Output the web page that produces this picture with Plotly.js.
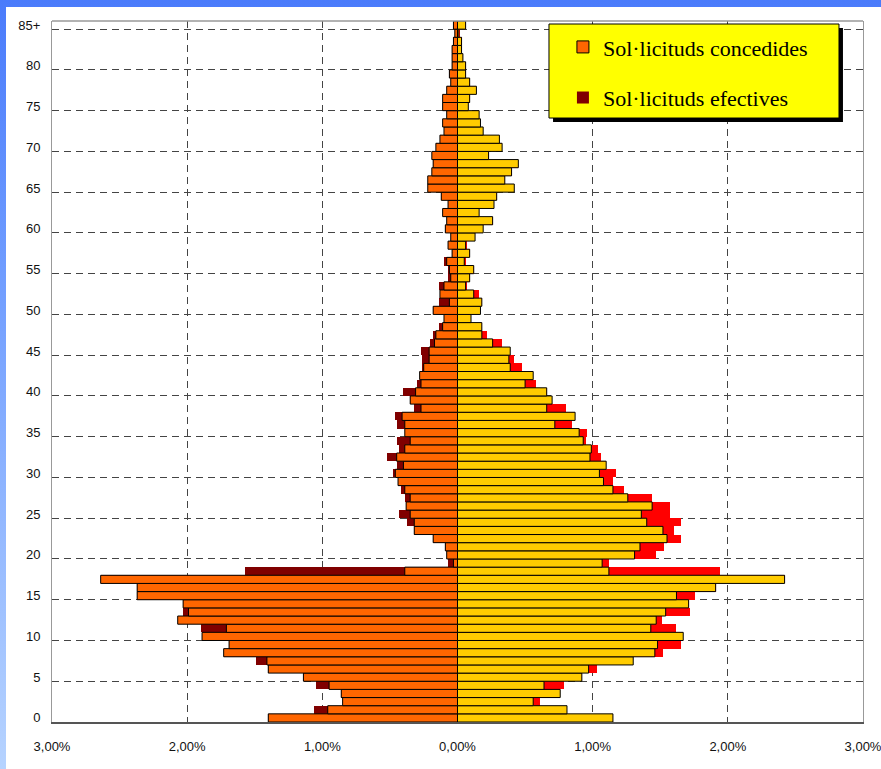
<!DOCTYPE html>
<html>
<head>
<meta charset="utf-8">
<script src="https://cdn.plot.ly/plotly-3.0.1.min.js"></script>
<style>
  html, body { margin: 0; padding: 0; width: 881px; height: 769px; overflow: hidden; }
  body { background: linear-gradient(180deg, #4a7bfb 0%, #6f9cff 35%, #b6d3ff 100%); position: relative; }
  #chart { position: absolute; left: 6px; top: 7px; width: 875px; height: 762px; background: #ffffff; }
</style>
</head>
<body>
<div id="chart"></div>
<script>
// Ages 0 .. 85 (85 = "85+")
const ages = [0,1,2,3,4,5,6,7,8,9,10,11,12,13,14,15,16,17,18,19,20,21,22,23,24,25,26,27,28,29,
  30,31,32,33,34,35,36,37,38,39,40,41,42,43,44,45,46,47,48,49,50,51,52,53,54,55,56,57,58,59,
  60,61,62,63,64,65,66,67,68,69,70,71,72,73,74,75,76,77,78,79,80,81,82,83,84,85];

const ageTickVals = [0,5,10,15,20,25,30,35,40,45,50,55,60,65,70,75,80,85];
const ageTickText = ['0','5','10','15','20','25','30','35','40','45','50','55','60','65','70','75','80','85+'];

// Percentages (left side = men, right side = women)
const menConcedides = [1.40,0.96,0.85,0.86,0.95,1.14,1.40,1.41,1.73,1.69,
  1.89,1.71,2.07,1.99,2.03,2.37,2.37,2.64,0.39,0.03,
  0.08,0.09,0.18,0.32,0.32,0.35,0.38,0.35,0.39,0.44,
  0.46,0.40,0.45,0.39,0.35,0.39,0.39,0.41,0.27,0.35,
  0.31,0.27,0.28,0.25,0.21,0.21,0.17,0.16,0.11,0.10,
  0.18,0.06,0.13,0.10,0.05,0.06,0.08,0.04,0.07,0.05,
  0.09,0.08,0.11,0.07,0.12,0.22,0.22,0.19,0.18,0.19,
  0.16,0.13,0.10,0.11,0.08,0.11,0.11,0.08,0.05,0.06,
  0.04,0.04,0.04,0.03,0.02,0.03];
const menEfectives = [1.40,1.06,0.85,0.86,1.05,1.14,1.40,1.49,1.73,1.69,
  1.89,1.90,2.07,2.03,2.03,2.37,2.37,2.64,1.57,0.07,
  0.08,0.09,0.18,0.32,0.37,0.43,0.38,0.39,0.42,0.44,
  0.48,0.45,0.52,0.43,0.45,0.39,0.45,0.46,0.32,0.35,
  0.40,0.30,0.28,0.26,0.26,0.27,0.20,0.18,0.14,0.10,
  0.18,0.14,0.13,0.14,0.07,0.07,0.10,0.04,0.07,0.05,
  0.09,0.08,0.11,0.07,0.12,0.22,0.22,0.19,0.18,0.19,
  0.16,0.13,0.10,0.11,0.08,0.11,0.11,0.08,0.05,0.06,
  0.04,0.04,0.04,0.03,0.02,0.03];
const womenConcedides = [1.15,0.81,0.56,0.76,0.64,0.92,0.97,1.30,1.46,1.48,
  1.67,1.43,1.47,1.54,1.71,1.62,1.91,2.42,1.12,1.07,
  1.31,1.35,1.55,1.52,1.40,1.36,1.44,1.26,1.15,1.08,
  1.05,1.10,0.98,0.99,0.93,0.90,0.72,0.87,0.66,0.70,
  0.66,0.50,0.56,0.39,0.38,0.39,0.26,0.18,0.18,0.10,
  0.17,0.18,0.12,0.06,0.09,0.12,0.05,0.09,0.06,0.13,
  0.19,0.26,0.16,0.27,0.29,0.42,0.35,0.40,0.45,0.23,
  0.33,0.31,0.19,0.17,0.16,0.08,0.09,0.14,0.09,0.06,
  0.06,0.04,0.03,0.03,0.01,0.06];
const womenEfectives = [1.15,0.81,0.61,0.76,0.79,0.92,1.03,1.30,1.52,1.65,
  1.67,1.62,1.51,1.72,1.71,1.76,1.91,2.42,1.94,1.12,
  1.47,1.53,1.65,1.60,1.65,1.57,1.57,1.44,1.23,1.15,
  1.17,1.10,1.06,1.04,0.95,0.96,0.85,0.87,0.80,0.70,
  0.66,0.58,0.56,0.48,0.42,0.39,0.33,0.22,0.18,0.10,
  0.17,0.18,0.16,0.07,0.09,0.12,0.06,0.09,0.07,0.13,
  0.19,0.26,0.16,0.27,0.29,0.42,0.35,0.40,0.45,0.23,
  0.33,0.31,0.19,0.17,0.16,0.08,0.09,0.14,0.09,0.06,
  0.06,0.04,0.03,0.03,0.02,0.06];

const pctTickVals = [-3,-2,-1,0,1,2,3];
const pctTickText = ['3,00%','2,00%','1,00%','0,00%','1,00%','2,00%','3,00%'];

const seriesNames = ['Sol·licituds concedides', 'Sol·licituds efectives'];

const neg = a => a.map(v => -v);

const traces = [
  { type:'bar', orientation:'h', y: ages, x: neg(menEfectives), name: seriesNames[1],
    legendgroup:'e', legendrank: 2,
    marker:{ color:'#800000', line:{ width:0 } }, hoverinfo:'skip' },
  { type:'bar', orientation:'h', y: ages, x: womenEfectives, name: seriesNames[1],
    legendgroup:'e', showlegend:false,
    marker:{ color:'#ff0000', line:{ width:0 } }, hoverinfo:'skip' },
  { type:'bar', orientation:'h', y: ages, x: neg(menConcedides), name: seriesNames[0],
    legendgroup:'c', legendrank: 1,
    marker:{ color:'#ff6600', line:{ width:1, color:'#000000' } }, hoverinfo:'skip' },
  { type:'bar', orientation:'h', y: ages, x: womenConcedides, name: seriesNames[0],
    legendgroup:'c', showlegend:false,
    marker:{ color:'#ffcc00', line:{ width:1, color:'#000000' } }, hoverinfo:'skip' }
];

const layout = {
  width: 875, height: 762,
  margin: { l: 46, r: 18, t: 14, b: 47 },
  paper_bgcolor: '#ffffff', plot_bgcolor: '#ffffff',
  barmode: 'overlay', bargap: 0,
  showlegend: true,
  font: { family: 'Liberation Sans, Arial, sans-serif', size: 13, color: '#111111' },
  xaxis: {
    range: [-3, 3], tickmode: 'array', tickvals: pctTickVals, ticktext: pctTickText,
    showgrid: true, gridcolor: '#444444', gridwidth: 1, griddash: '7px,5px',
    zeroline: true, zerolinecolor: '#000000', zerolinewidth: 1,
    showline: true, linecolor: '#555555', linewidth: 2,
    ticks: '', ticklabelstandoff: 11, ticklabeloverflow: 'allow', fixedrange: true,
    tickfont: { size: 13, color: '#111111' }
  },
  yaxis: {
    range: [-0.5, 85.5], tickmode: 'array', tickvals: ageTickVals, ticktext: ageTickText,
    showgrid: false, zeroline: false,
    minor: { tickmode: 'linear', tick0: 4.5, dtick: 5, showgrid: true, gridcolor: '#444444', gridwidth: 1, griddash: '7px,5px', ticks: '' },
    showline: true, linecolor: '#999999', linewidth: 1, mirror: true,
    ticks: '', ticklabelstandoff: 8, fixedrange: true,
    tickfont: { size: 13, color: '#111111' }
  },
  shapes: [
    { type:'line', xref:'paper', yref:'paper', x0:0, x1:1, y0:1, y1:1, line:{ color:'#999999', width:1.5 }, layer:'above' },
    // legend shadow
    { type:'rect', xref:'paper', yref:'paper', x0:0.6178, x1:0.9753, y0:0.8559, y1:0.990,
      fillcolor:'#000000', line:{ width:0 }, layer:'above' },
    // legend box
    { type:'rect', xref:'paper', yref:'paper', x0:0.6128, x1:0.9704, y0:0.8616, y1:0.9957,
      fillcolor:'#ffff00', line:{ color:'#000000', width:1 }, layer:'above' }
  ],
  legend: {
    x: 0.630, y: 0.9927, xanchor: 'left', yanchor: 'top',
    bgcolor: 'rgba(0,0,0,0)', borderwidth: 0,
    traceorder: 'grouped', tracegroupgap: 19,
    font: { family: 'Liberation Serif, Times New Roman, serif', size: 22, color: '#000000' }
  }
};

Plotly.newPlot('chart', traces, layout, { displayModeBar: false, staticPlot: true });
</script>
</body>
</html>
